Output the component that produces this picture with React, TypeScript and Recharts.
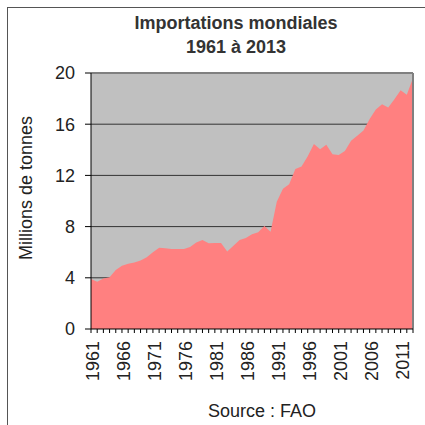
import {
  AreaChart,
  Area,
  XAxis,
  YAxis,
  CartesianGrid,
  ReferenceLine,
} from "recharts";

const years: number[] = Array.from({ length: 53 }).map((_, i) => 1961 + i);

const imports: number[] = [
  3.9, 3.7, 3.95, 4.05, 4.6, 4.95, 5.1, 5.2, 5.35, 5.6,
  6.0, 6.35, 6.3, 6.25, 6.25, 6.25, 6.4, 6.75, 6.95, 6.7,
  6.72, 6.72, 6.05, 6.5, 6.95, 7.1, 7.4, 7.55, 8.05, 7.6,
  9.95, 10.95, 11.3, 12.5, 12.7, 13.5, 14.45, 14.05, 14.4, 13.65,
  13.6, 13.9, 14.7, 15.1, 15.5, 16.4, 17.15, 17.55, 17.3, 17.95,
  18.65, 18.3, 19.6,
];

const yTicks = [0, 4, 8, 12, 16, 20];

const data = years.map((y, i) => ({ year: y, value: imports[i] }));

const font = "'Liberation Sans', Arial, sans-serif";
const ink = "#222";

function YearTick(props: any) {
  const { x, y, payload } = props;
  if ((payload.value - 1961) % 5 !== 0) return null;
  const cx = x + 2;
  const cy = y + 6;
  return (
    <text
      x={cx}
      y={cy}
      transform={`rotate(-90 ${cx} ${cy})`}
      textAnchor="end"
      dominantBaseline="central"
      fontSize={18}
      fontFamily={font}
      fill={ink}
    >
      {payload.value}
    </text>
  );
}

export default function App() {
  return (
    <div
      style={{
        position: "absolute",
        left: 0,
        top: 0,
        width: 425,
        height: 425,
        overflow: "hidden",
        background: "#fff",
        fontFamily: font,
      }}
    >
      <div
        style={{
          position: "absolute",
          left: 7,
          top: 7,
          width: 440,
          height: 440,
          border: "1px solid #555",
        }}
      />
      <div
        style={{
          position: "absolute",
          left: 116,
          width: 240,
          top: 11,
          textAlign: "center",
          fontSize: 18,
          fontWeight: "bold",
          color: "#333",
          lineHeight: "24px",
        }}
      >
        Importations mondiales
        <br />
        1961 à 2013
      </div>
      <div
        style={{
          position: "absolute",
          left: 26,
          top: 188,
          transform: "translate(-50%, -50%) rotate(-90deg)",
          fontSize: 18,
          color: ink,
          whiteSpace: "nowrap",
        }}
      >
        Millions de tonnes
      </div>
      <div
        style={{
          position: "absolute",
          left: 142,
          width: 240,
          top: 401,
          textAlign: "center",
          fontSize: 18,
          color: ink,
        }}
      >
        Source : FAO
      </div>
      <AreaChart
        width={425}
        height={425}
        data={data}
        margin={{ top: 73, right: 12, left: 0, bottom: 0 }}
        style={{ position: "absolute", left: 0, top: 0 }}
      >
        <CartesianGrid
          fill="#c0c0c0"
          vertical={false}
          stroke="#333"
          horizontalValues={[4, 8, 12, 16]}
        />
        <XAxis
          dataKey="year"
          type="number"
          domain={[1961, 2013]}
          ticks={years}
          interval={0}
          tick={<YearTick />}
          tickSize={4}
          stroke="#000"
          height={96}
        />
        <YAxis
          type="number"
          domain={[0, 20]}
          ticks={yTicks}
          interval={0}
          width={91}
          tickSize={6}
          tickMargin={10}
          stroke="#000"
          tick={{ fill: ink, fontSize: 18, fontFamily: font }}
        />
        <Area
          type="linear"
          dataKey="value"
          stroke="none"
          fill="#ff8080"
          fillOpacity={1}
          isAnimationActive={false}
        />
        <ReferenceLine y={20} stroke="#808080" strokeWidth={2} />
        <ReferenceLine x={2013} stroke="#808080" strokeWidth={2} />
      </AreaChart>
    </div>
  );
}
